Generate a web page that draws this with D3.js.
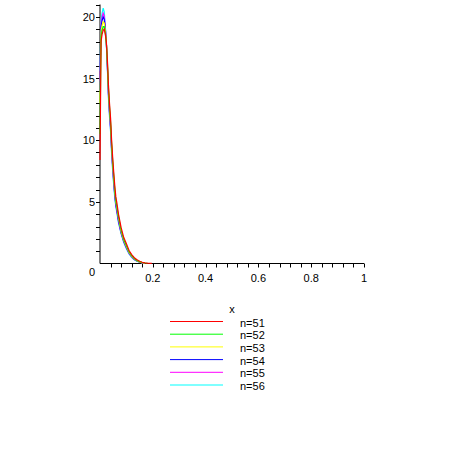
<!DOCTYPE html>
<html>
<head>
<meta charset="utf-8">
<script src="https://cdn.jsdelivr.net/npm/d3@7"></script>
<style>
html,body{margin:0;padding:0;background:#fff;}
svg text{font-family:"Liberation Sans",Arial,sans-serif;font-size:11px;fill:#000;}
</style>
</head>
<body>
<svg id="chart" width="450" height="450"></svg>
<script>
const xs = [0, 0.004, 0.008, 0.012, 0.016, 0.020, 0.024, 0.028, 0.032, 0.036, 0.040, 0.044, 0.048, 0.052, 0.056, 0.060, 0.064, 0.070, 0.080, 0.090, 0.100, 0.110, 0.120, 0.130, 0.140, 0.150, 0.160, 0.170, 0.180, 0.196];
const n51 = [8.4, 18.0, 18.6, 18.9, 19.0, 18.6, 18.0, 16.5, 14.5, 13.0, 11.8, 10.0, 8.6, 7.4, 6.3, 5.4, 4.9, 4.0, 2.9, 2.1, 1.6, 1.05, 0.72, 0.47, 0.30, 0.18, 0.10, 0.05, 0.03, 0.01];
const n52 = [10.5, 18.4, 18.9, 19.2, 19.2, 18.7, 17.9, 16.3, 14.2, 12.7, 11.5, 9.7, 8.3, 7.1, 6.0, 5.1, 4.6, 3.8, 2.7, 1.95, 1.45, 0.95, 0.64, 0.41, 0.25, 0.15, 0.08, 0.04, 0.02, null];
const n53 = [13.0, 18.8, 19.3, 19.6, 19.5, 18.9, 17.9, 16.2, 14.0, 12.5, 11.3, 9.5, 8.1, 6.9, 5.8, 5.0, 4.5, 3.7, 2.6, 1.88, 1.38, 0.9, 0.6, 0.38, 0.23, 0.13, 0.07, 0.03, null, null];
const n54 = [14.0, 19.2, 19.7, 20.0, 19.8, 19.1, 17.9, 16.0, 13.8, 12.3, 11.1, 9.3, 7.9, 6.7, 5.6, 4.8, 4.3, 3.5, 2.5, 1.8, 1.3, 0.85, 0.56, 0.35, 0.21, 0.12, 0.06, 0.03, null, null];
const n55 = [14.8, 19.5, 20.0, 20.3, 20.1, 19.2, 17.9, 15.9, 13.6, 12.1, 10.9, 9.1, 7.7, 6.5, 5.5, 4.7, 4.2, 3.4, 2.45, 1.75, 1.25, 0.82, 0.53, 0.33, 0.2, 0.11, 0.05, 0.02, null, null];
const n56 = [15.6, 19.8, 20.3, 20.7, 20.4, 19.3, 17.9, 15.8, 13.4, 11.9, 10.7, 8.9, 7.5, 6.3, 5.3, 4.6, 4.1, 3.3, 2.4, 1.7, 1.2, 0.78, 0.5, 0.31, 0.18, 0.1, 0.05, 0.02, null, null];
const seriesNames = ["n=51", "n=52", "n=53", "n=54", "n=55", "n=56"];
const seriesValues = [n51, n52, n53, n54, n55, n56];
const seriesColors = ["#ff0000", "#00ff00", "#ffff00", "#0000ff", "#ff00ff", "#00ffff"];
const xTicks = [0.2, 0.4, 0.6, 0.8, 1];
const xTickLabels = ["0.2", "0.4", "0.6", "0.8", "1"];
const yTicks = [5, 10, 15, 20];
const xAxisLabel = "x";

const svg = d3.select("#chart");
const x = d3.scaleLinear().domain([0, 1]).range([100, 364]);
const y = d3.scaleLinear().domain([0, 21]).range([263.5, 4.5]);

// x axis
const xAxisG = svg.append("g").attr("transform", `translate(0,${y(0)})`);
xAxisG.append("line").attr("x1", x(0)).attr("x2", x(1)).attr("stroke", "#000");
xAxisG.selectAll("line.minor").data(d3.range(1, 26).map(i => i * 0.04))
  .enter().append("line").attr("class", "minor")
  .attr("x1", d => Math.round(x(d)) + 0.5).attr("x2", d => Math.round(x(d)) + 0.5)
  .attr("y1", 0).attr("y2", 4).attr("stroke", "#000");
xAxisG.selectAll("text").data(xTicks).enter().append("text")
  .attr("x", d => x(d)).attr("y", 18).attr("text-anchor", "middle")
  .text((d, i) => xTickLabels[i]);

// y axis
const yAxisG = svg.append("g").attr("transform", `translate(${x(0)},0)`);
yAxisG.append("line").attr("y1", y(0)).attr("y2", y(21)).attr("stroke", "#000");
yAxisG.selectAll("line.minor").data(d3.range(1, 22))
  .enter().append("line").attr("class", "minor")
  .attr("y1", d => Math.round(y(d)) + 0.5).attr("y2", d => Math.round(y(d)) + 0.5)
  .attr("x1", -4).attr("x2", 0).attr("stroke", "#000");
yAxisG.selectAll("text").data(yTicks).enter().append("text")
  .attr("x", -5).attr("y", d => y(d) + 4).attr("text-anchor", "end")
  .text(d => d);
svg.append("text").attr("x", x(0) - 5).attr("y", y(0) + 12).attr("text-anchor", "end").text("0");

// curves
const line = d3.line().defined(d => d[1] !== null).x(d => x(d[0])).y(d => y(d[1]));
for (let s = seriesValues.length - 1; s >= 0; s--) {
  const pts = xs.map((xv, i) => [xv, seriesValues[s][i]]);
  svg.append("path").datum(pts).attr("d", line)
    .attr("fill", "none").attr("stroke", seriesColors[s]).attr("stroke-width", 1.2);
}

// legend
svg.append("text").attr("x", 232).attr("y", 313).attr("text-anchor", "middle").text(xAxisLabel);
const leg = svg.append("g");
seriesNames.forEach((name, i) => {
  const ly = 321.5 + i * 12.7;
  leg.append("line").attr("x1", 170).attr("x2", 223).attr("y1", ly).attr("y2", ly)
    .attr("stroke", seriesColors[i]).attr("stroke-width", 1);
  leg.append("text").attr("x", 240).attr("y", ly + 5).text(name);
});
</script>
</body>
</html>
